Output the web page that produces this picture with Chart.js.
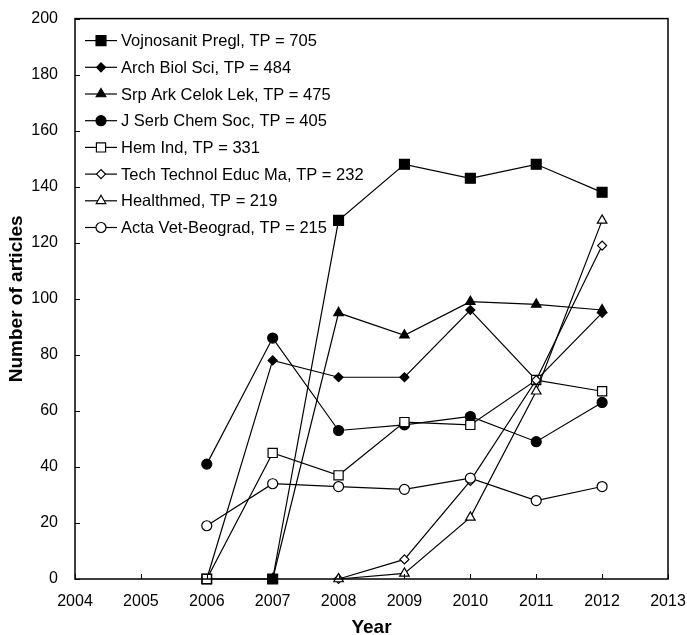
<!DOCTYPE html>
<html>
<head>
<meta charset="utf-8">
<script src="https://cdn.jsdelivr.net/npm/chart.js@4.4.0/dist/chart.umd.min.js"></script>
<style>
  html, body { margin: 0; padding: 0; background: #fff; }
  #wrap { width: 687px; height: 635px; }
</style>
</head>
<body>
<div id="wrap"><canvas id="myChart" width="687" height="635"></canvas></div>
<script>
// data
const years = [2006, 2007, 2008, 2009, 2010, 2011, 2012]
const xTicks = [2004, 2005, 2006, 2007, 2008, 2009, 2010, 2011, 2012, 2013]
const yTicks = [0, 20, 40, 60, 80, 100, 120, 140, 160, 180, 200]

const vojnosanit = [0, 0, 128, 148, 143, 148, 138]
const archBiol   = [0, 78, 72, 72, 96, 71, 95]
const srpArk     = [null, 0, 95, 87, 99, 98, 96]
const jSerbChem  = [41, 86, 53, 55, 58, 49, 63]
const hemInd     = [0, 45, 37, 56, 55, 71, 67]
const techTechnol = [null, null, 0, 7, 35, 71, 119]
const healthmed  = [null, null, 0, 2, 22, 67, 128]
const actaVet    = [19, 34, 33, 32, 36, 28, 33]

const names = [
  'Vojnosanit Pregl, TP = 705',
  'Arch Biol Sci, TP = 484',
  'Srp Ark Celok Lek, TP = 475',
  'J Serb Chem Soc, TP = 405',
  'Hem Ind, TP = 331',
  'Tech Technol Educ Ma, TP = 232',
  'Healthmed, TP = 219',
  'Acta Vet-Beograd, TP = 215'
]
const series = [vojnosanit, archBiol, srpArk, jSerbChem, hemInd, techTechnol, healthmed, actaVet]
const styles = ['rect', 'rectRot', 'triangle', 'circle', 'rect', 'rectRot', 'triangle', 'circle']
const filled = [true, true, true, true, false, false, false, false]
const radii = [7, 4.5, 5.5, 5, 6.5, 4.5, 5.5, 5]

const FONT = '"Liberation Sans", Arial, Helvetica, sans-serif'

function toPoints(arr) {
  var pts = []
  for (var i = 0; i < years.length; i++) {
    if (arr[i] !== null) pts.push({x: years[i], y: arr[i]})
  }
  return pts
}

var datasets = []
for (var i = 0; i < series.length; i++) {
  datasets.push({
    label: names[i],
    data: toPoints(series[i]),
    borderColor: '#000',
    borderWidth: 1.2,
    backgroundColor: filled[i] ? '#000' : '#fff',
    pointBackgroundColor: filled[i] ? '#000' : '#fff',
    pointBorderColor: '#000',
    pointBorderWidth: 1.2,
    pointStyle: styles[i],
    pointRadius: radii[i],
    tension: 0,
    clip: false,
    order: series.length - i
  })
}

// box, inward ticks and legend
const extras = {
  id: 'extras',
  afterDraw(chart) {
    var ctx = chart.ctx
    var a = chart.chartArea
    var xs = chart.scales.x, ys = chart.scales.y
    ctx.save()
    ctx.strokeStyle = '#000'
    ctx.lineWidth = 1.5
    ctx.strokeRect(a.left, a.top, a.right - a.left, a.bottom - a.top)
    ctx.lineWidth = 1
    ctx.beginPath()
    xTicks.forEach(function (t) {
      var px = Math.round(xs.getPixelForValue(t)) + 0.5
      ctx.moveTo(px, a.bottom)
      ctx.lineTo(px, a.bottom - 5)
    })
    yTicks.forEach(function (t) {
      var py = Math.round(ys.getPixelForValue(t)) + 0.5
      ctx.moveTo(a.left, py)
      ctx.lineTo(a.left + 5, py)
    })
    ctx.stroke()

    // legend
    var lx = a.left + 10, ly = a.top + 22, step = 26.7
    ctx.font = '16.5px ' + FONT
    ctx.fillStyle = '#000'
    ctx.textBaseline = 'middle'
    for (var i = 0; i < names.length; i++) {
      var y = ly + i * step
      ctx.beginPath()
      ctx.lineWidth = 1.2
      ctx.moveTo(lx, y)
      ctx.lineTo(lx + 32, y)
      ctx.stroke()
      ctx.fillStyle = filled[i] ? '#000' : '#fff'
      Chart.helpers.drawPoint(ctx, {pointStyle: styles[i], radius: radii[i], borderWidth: 1.2}, lx + 16, y)
      ctx.fillStyle = '#000'
      ctx.fillText(names[i], lx + 36, y + 1)
    }
    ctx.restore()
  }
}

var chart = new Chart(document.getElementById('myChart').getContext('2d'), {
  type: 'line',
  data: { datasets: datasets },
  plugins: [extras],
  options: {
    responsive: false,
    animation: false,
    layout: { padding: { left: 1, right: 19, top: 16, bottom: 0 } },
    plugins: { legend: { display: false }, tooltip: { enabled: false } },
    scales: {
      x: {
        type: 'linear',
        min: 2004, max: 2013,
        afterBuildTicks: function (s) { s.ticks = xTicks.map(function (v) { return {value: v} }) },
        afterFit: function (s) { s.height = 56; s.paddingLeft = 0; s.paddingRight = 0 },
        grid: { display: false },
        border: { display: false },
        ticks: { color: '#000', font: { size: 16, family: FONT }, padding: 5, maxRotation: 0,
          callback: function (v) { return String(v) } },
        title: { display: true, text: 'Year', color: '#000', padding: { top: 4, bottom: -4 },
          font: { size: 19, weight: 'bold', family: FONT } }
      },
      y: {
        min: 0, max: 200,
        afterBuildTicks: function (s) { s.ticks = yTicks.map(function (v) { return {value: v} }) },
        afterFit: function (s) { s.width = 74 },
        grid: { display: false },
        border: { display: false },
        ticks: { color: '#000', font: { size: 16, family: FONT }, padding: 9,
          callback: function (v) { return String(v) } },
        title: { display: true, text: 'Number of articles', color: '#000', padding: { bottom: 6 },
          font: { size: 19, weight: 'bold', family: FONT } }
      }
    }
  }
})
</script>
</body>
</html>
